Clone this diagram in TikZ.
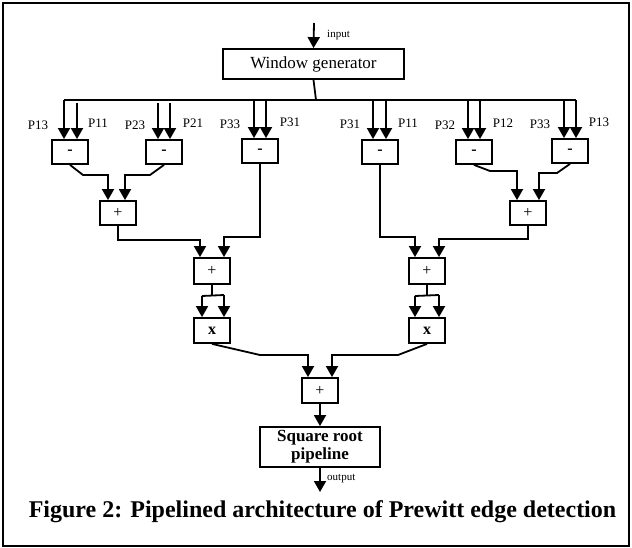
\documentclass[tikz,border=0pt]{standalone}
\usepackage{fontspec}
\setmainfont{Liberation Serif}
\usetikzlibrary{arrows.meta}
\tikzset{
  blk/.style={draw,line width=1.8pt,minimum width=36pt,minimum height=24pt,inner sep=0pt,font=\fontsize{16}{18}\selectfont},
  wire/.style={line width=1.8pt},
  arr/.style={line width=1.8pt,-{Triangle[length=11pt,width=12pt]}},
  plab/.style={font=\fontsize{13}{15}\selectfont,inner sep=0pt},
  small/.style={font=\fontsize{11}{13}\selectfont,inner sep=0pt}
}
\begin{document}
\begin{tikzpicture}[x=1pt,y=-1pt]
\useasboundingbox (0,0) rectangle (632,548);
\draw[line width=1.5pt] (3,3) rectangle (629,546);
% top
\node[blk,minimum width=181pt,minimum height=30pt,font=\fontsize{17}{19}\selectfont] (win) at (313.5,64) {Window generator};
\coordinate (in) at (314,23);
\draw[arr] (in) -- (win.north);
\node[small,anchor=west] (inl) at (327,35) {input};
\coordinate (busL) at (64,100);
\coordinate (busR) at (576,100);
\coordinate (busM) at (316,100);
\draw[wire] (win.south) -- (busM);
\draw[wire] (busL) -- (busR);
% minus blocks
\node[blk,font=\bfseries\fontsize{16}{18}\selectfont] (m1) at (70,152) {-};
\node[blk,font=\bfseries\fontsize{16}{18}\selectfont] (m2) at (164,152) {-};
\node[blk,font=\bfseries\fontsize{16}{18}\selectfont] (m3) at (260,151) {-};
\node[blk,font=\bfseries\fontsize{16}{18}\selectfont] (m4) at (380,152) {-};
\node[blk,font=\bfseries\fontsize{16}{18}\selectfont] (m5) at (474,152) {-};
\node[blk,font=\bfseries\fontsize{16}{18}\selectfont] (m6) at (570,151) {-};
% input arrows
\draw[arr] (busL) -- (m1.north -| 64,0);
\draw[arr] (77,103) -- (m1.north -| 77,0);
\draw[arr] (158,103) -- (m2.north -| 158,0);
\draw[arr] (170,103) -- (m2.north -| 170,0);
\draw[arr] (254,100) -- (m3.north -| 254,0);
\draw[arr] (266,100) -- (m3.north -| 266,0);
\draw[arr] (373,100) -- (m4.north -| 373,0);
\draw[arr] (386,100) -- (m4.north -| 386,0);
\draw[arr] (468,100) -- (m5.north -| 468,0);
\draw[arr] (480,100) -- (m5.north -| 480,0);
\draw[arr] (564,100) -- (m6.north -| 564,0);
\draw[arr] (busR) -- (m6.north -| 576,0);
% P labels
\node[plab] (l1) at (38,125) {P13};
\node[plab] (l2) at (98,123) {P11};
\node[plab] (l3) at (135,125) {P23};
\node[plab] (l4) at (193,123) {P21};
\node[plab] (l5) at (230,124) {P33};
\node[plab] (l6) at (290,122) {P31};
\node[plab] (l7) at (350,124) {P31};
\node[plab] (l8) at (408,123) {P11};
\node[plab] (l9) at (445,125) {P32};
\node[plab] (l10) at (503,123) {P12};
\node[plab] (l11) at (540,124) {P33};
\node[plab] (l12) at (599,122) {P13};
% level 2
\node[blk] (pA) at (118,213) {+};
\node[blk] (pD) at (528,213) {+};
\draw[arr] (m1.south) -- (83,175) -- (108,175) -- (pA.north -| 108,0);
\draw[arr] (m2.south) -- (150,175) -- (125,175) -- (pA.north -| 125,0);
\draw[arr] (m5.south) -- (490,171) -- (517,171) -- (pD.north -| 517,0);
\draw[arr] (m6.south) -- (557,173) -- (539,173) -- (pD.north -| 539,0);
% level 3
\node[blk,minimum height=26pt] (pB) at (212,271) {+};
\node[blk,minimum height=26pt] (pC) at (427,271) {+};
\draw[arr] (pA.south) -- (118,240) -- (200,240) -- (pB.north -| 200,0);
\draw[arr] (m3.south) -- (260,237) -- (224,237) -- (pB.north -| 224,0);
\draw[arr] (m4.south) -- (380,237) -- (415,237) -- (pC.north -| 415,0);
\draw[arr] (pD.south) -- (528,239) -- (439,239) -- (pC.north -| 439,0);
% squares
\node[blk,minimum height=25pt,font=\bfseries\fontsize{16}{18}\selectfont] (xL) at (212,330.5) {x};
\node[blk,minimum height=25pt,font=\bfseries\fontsize{16}{18}\selectfont] (xR) at (427,330.5) {x};
\coordinate (sL) at (212,295);
\coordinate (sR) at (427,295);
\draw[wire] (pB.south) -- (sL);
\draw[wire] (202,296) -- (224,295);
\draw[arr] (202,296) -- (xL.north -| 202,0);
\draw[arr] (224,295) -- (xL.north -| 224,0);
\draw[wire] (pC.south) -- (sR);
\draw[wire] (415,296) -- (439,295);
\draw[arr] (415,296) -- (xR.north -| 415,0);
\draw[arr] (439,295) -- (xR.north -| 439,0);
% final
\node[blk,minimum height=25pt] (pE) at (320,390.5) {+};
\draw[arr] (xL.south) -- (260,355) -- (308,355) -- (pE.north -| 308,0);
\draw[arr] (xR.south) -- (398,355) -- (332,355) -- (pE.north -| 332,0);
\node[blk,minimum width=120pt,minimum height=40pt,align=center,font=\bfseries\fontsize{17}{18}\selectfont] (sq) at (320,447) {Square root\\pipeline};
\draw[arr] (pE.south) -- (sq.north);
\coordinate (out) at (320,492);
\draw[arr] (sq.south) -- (out);
\node[small,anchor=west] (outl) at (327,479) {output};
% caption
\node[font=\bfseries\fontsize{24}{26}\selectfont,inner sep=0pt] (cap) at (322.5,512) {Figure 2: Pipelined architecture of Prewitt edge detection};
\end{tikzpicture}
\end{document}
